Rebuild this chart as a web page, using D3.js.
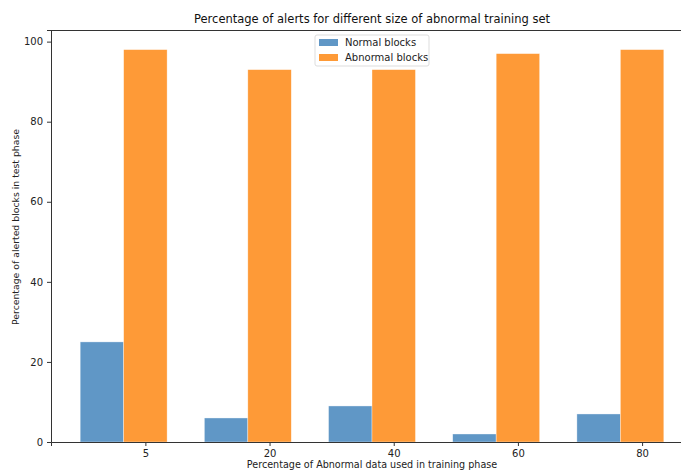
<!DOCTYPE html>
<html>
<head>
<meta charset="utf-8">
<script src="https://cdn.jsdelivr.net/npm/d3@7"></script>
<style>
  body { margin: 0; background: #fff; }
  svg { display: block; font-family: "DejaVu Sans", sans-serif; }
</style>
</head>
<body>
<div id="chart"></div>
<script>
const categories = ["5", "20", "40", "60", "80"];
const normalBlocks = [25, 6, 9, 2, 7];
const abnormalBlocks = [98, 93, 93, 97, 98];
const yTicks = [0, 20, 40, 60, 80, 100];

const width = 681, height = 472;
const margin = { top: 30, left: 51, bottom: 442 };
const barW = 0.35;

const svg = d3.select("#chart").append("svg").attr("width", width).attr("height", height);

// matplotlib-like linear x over group index, right edge falls outside the crop
const x = d3.scaleLinear().domain([-0.41, 4.76]).range([margin.left, 693]);
const y = d3.scaleLinear().domain([0, 102.9]).range([margin.bottom, margin.top]);

const series = [
  { name: "Normal blocks", values: normalBlocks, color: "#6097c6", offset: 0 },
  { name: "Abnormal blocks", values: abnormalBlocks, color: "#fe9a37", offset: barW },
];

series.forEach((s) => {
  svg.append("g")
    .selectAll("rect")
    .data(s.values)
    .enter()
    .append("rect")
    .attr("x", (d, i) => x(i + s.offset - barW / 2))
    .attr("y", (d) => y(d))
    .attr("width", (d, i) => x(i + s.offset + barW / 2) - x(i + s.offset - barW / 2))
    .attr("height", (d) => y(0) - y(d))
    .attr("fill", s.color)
    .attr("stroke", "rgba(255,255,255,0.6)")
    .attr("stroke-width", 0.6);
});

// axes
const xAxis = d3.axisBottom(x)
  .tickValues(categories.map((c, i) => i + barW))
  .tickFormat((d, i) => categories[i])
  .tickSize(4).tickPadding(4);
const gx = svg.append("g").attr("transform", `translate(0,${margin.bottom})`).call(xAxis);

const yAxis = d3.axisLeft(y).tickValues(yTicks).tickSize(4).tickPadding(4);
const gy = svg.append("g").attr("transform", `translate(${margin.left},0)`).call(yAxis);

[gx, gy].forEach((g) => {
  g.select(".domain").attr("stroke", "#333").attr("stroke-width", 1);
  g.selectAll(".tick line").attr("stroke", "#333");
  g.selectAll(".tick text").attr("fill", "#222").attr("font-size", 10).attr("font-family", "DejaVu Sans, sans-serif");
});

// top spine
svg.append("line")
  .attr("x1", margin.left).attr("x2", width)
  .attr("y1", margin.top + 0.5).attr("y2", margin.top + 0.5)
  .attr("stroke", "#333");

svg.append("text")
  .attr("x", 372).attr("y", 23)
  .attr("text-anchor", "middle")
  .attr("font-size", 11.5)
  .attr("fill", "#111")
  .text("Percentage of alerts for different size of abnormal training set");

svg.append("text")
  .attr("x", 372).attr("y", 468)
  .attr("text-anchor", "middle")
  .attr("font-size", 9.6)
  .attr("fill", "#222")
  .text("Percentage of Abnormal data used in training phase");

svg.append("text")
  .attr("transform", `translate(19,227) rotate(-90)`)
  .attr("text-anchor", "middle")
  .attr("font-size", 9.3)
  .attr("fill", "#222")
  .text("Percentage of alerted blocks in test phase");

// legend
const legend = svg.append("g").attr("transform", "translate(315,35)");
legend.append("rect")
  .attr("width", 114).attr("height", 31).attr("rx", 2)
  .attr("fill", "rgba(255,255,255,0.8)")
  .attr("stroke", "#ddd");
series.forEach((s, i) => {
  legend.append("rect").attr("x", 4).attr("y", 4 + i * 15).attr("width", 19).attr("height", 7).attr("fill", s.color);
  legend.append("text").attr("x", 30).attr("y", 11 + i * 15).attr("font-size", 10).attr("fill", "#222").text(s.name);
});
</script>
</body>
</html>
